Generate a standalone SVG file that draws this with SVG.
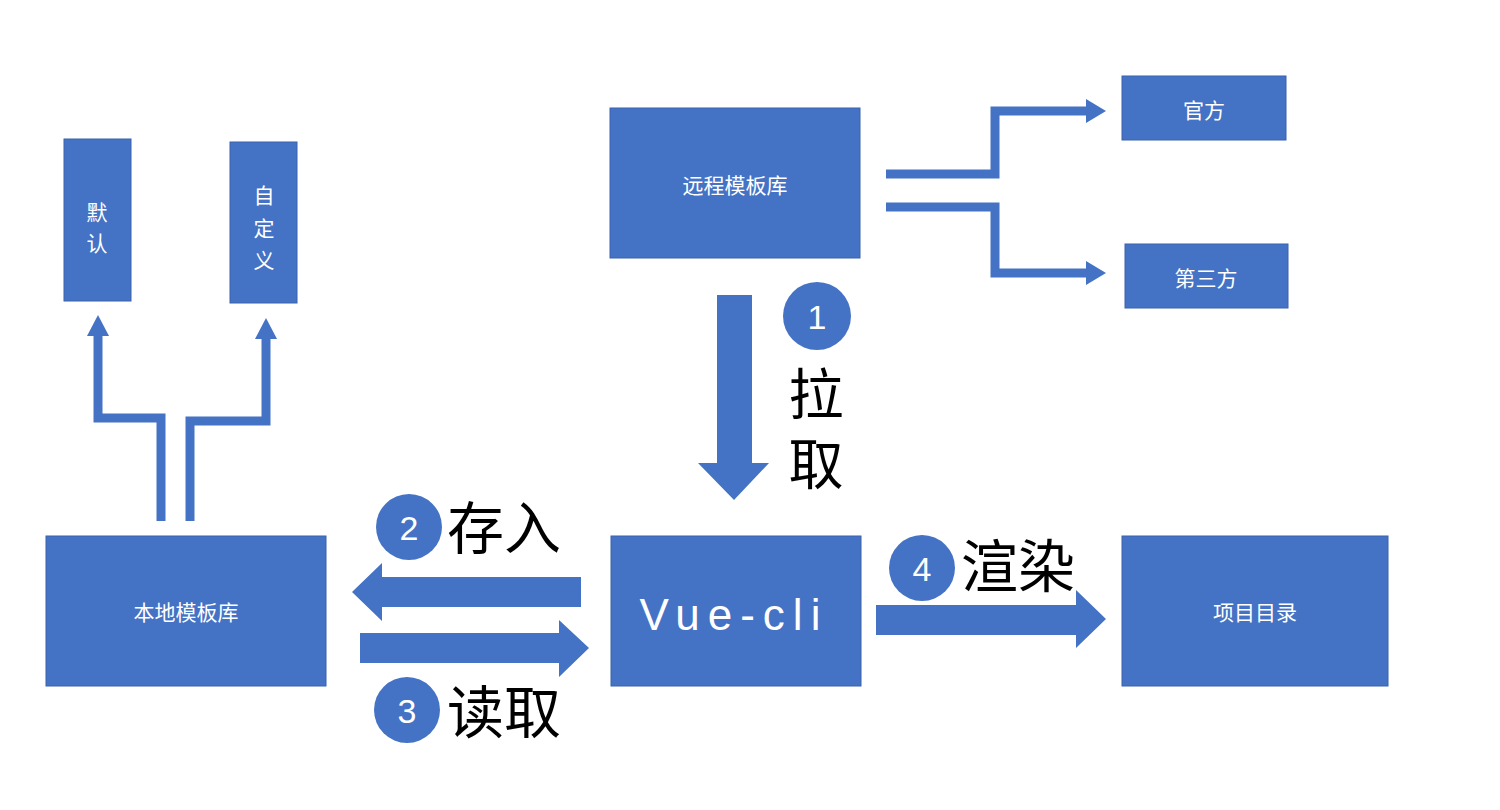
<svg xmlns="http://www.w3.org/2000/svg" width="1500" height="810" viewBox="0 0 1500 810">
<style>
.box{fill:#4472C4;stroke:#3B63AD;stroke-width:1}
.bt{fill:#FFFFFF;font-family:"Noto Sans CJK SC","Liberation Sans",sans-serif;font-size:21px;text-anchor:middle;dominant-baseline:central}
.line{fill:none;stroke:#4472C4;stroke-width:9}
.blk{fill:#4472C4}
.num{fill:#FFFFFF;font-family:"Liberation Sans",sans-serif;font-size:34px;text-anchor:middle;dominant-baseline:central}
.lbl{fill:#000000;font-family:"Noto Sans CJK SC",sans-serif;font-size:57px;dominant-baseline:central}
</style>
<rect width="1500" height="810" fill="#FFFFFF"/>
<g id="remote"><rect class="box" x="610" y="108" width="250" height="150"/><text class="bt" x="735" y="184">远程模板库</text></g>
<g id="official"><rect class="box" x="1122" y="76" width="164" height="64"/><text class="bt" x="1204" y="109">官方</text></g>
<g id="thirdparty"><rect class="box" x="1125" y="244" width="163" height="64"/><text class="bt" x="1206" y="277">第三方</text></g>
<g id="default"><rect class="box" x="64" y="139" width="67" height="162"/><text class="bt" x="97" y="211">默</text><text class="bt" x="97" y="242">认</text></g>
<g id="custom"><rect class="box" x="230" y="142" width="67" height="161"/><text class="bt" x="264" y="194">自</text><text class="bt" x="264" y="227">定</text><text class="bt" x="264" y="259">义</text></g>
<g id="local"><rect class="box" x="46" y="536" width="280" height="150"/><text class="bt" x="186" y="611">本地模板库</text></g>
<g id="vuecli"><rect class="box" x="611" y="536" width="250" height="150"/><text x="734" y="614" fill="#FFFFFF" font-family="Liberation Sans, sans-serif" font-size="44" letter-spacing="8" text-anchor="middle" dominant-baseline="central">Vue-cli</text></g>
<g id="project"><rect class="box" x="1122" y="536" width="266" height="150"/><text class="bt" x="1255" y="611">项目目录</text></g>
<g id="connectors">
<polyline class="line" points="886,174 995,174 995,111 1088,111"/>
<polygon class="blk" points="1086,99 1106,111 1086,123"/>
<polyline class="line" points="886,207 995,207 995,273 1088,273"/>
<polygon class="blk" points="1086,261 1106,273 1086,285"/>
<polyline class="line" points="161,521 161,418 98,418 98,333"/>
<polygon class="blk" points="87,336 98,315 109,336"/>
<polyline class="line" points="190,521 190,421 266,421 266,336"/>
<polygon class="blk" points="255,339 266,318 277,339"/>
<polygon class="blk" points="717,295 752,295 752,463 769,463 734,500 698,463 717,463"/>
<polygon class="blk" points="581,577 581,607 382,607 382,621 352,592 382,563 382,577"/>
<polygon class="blk" points="360,633 559,633 559,620 589,648 559,677 559,663 360,663"/>
<polygon class="blk" points="876,605 1076,605 1076,590 1106,619 1076,648 1076,635 876,635"/>
</g>
<g id="step1"><circle cx="817" cy="316" r="34" fill="#4472C4"/><text class="num" x="817" y="317">1</text><text x="816" y="366" fill="#000000" font-family="Noto Sans CJK SC, sans-serif" font-size="55" writing-mode="vertical-rl" letter-spacing="15">拉取</text></g>
<g id="step2"><circle cx="409" cy="527" r="33" fill="#4472C4"/><text class="num" x="409" y="528">2</text><text class="lbl" x="447" y="524">存入</text></g>
<g id="step3"><circle cx="407" cy="710" r="33" fill="#4472C4"/><text class="num" x="407" y="711">3</text><text class="lbl" x="447" y="708">读取</text></g>
<g id="step4"><circle cx="922" cy="568" r="33" fill="#4472C4"/><text class="num" x="922" y="569">4</text><text class="lbl" x="961" y="562">渲染</text></g>
</svg>
